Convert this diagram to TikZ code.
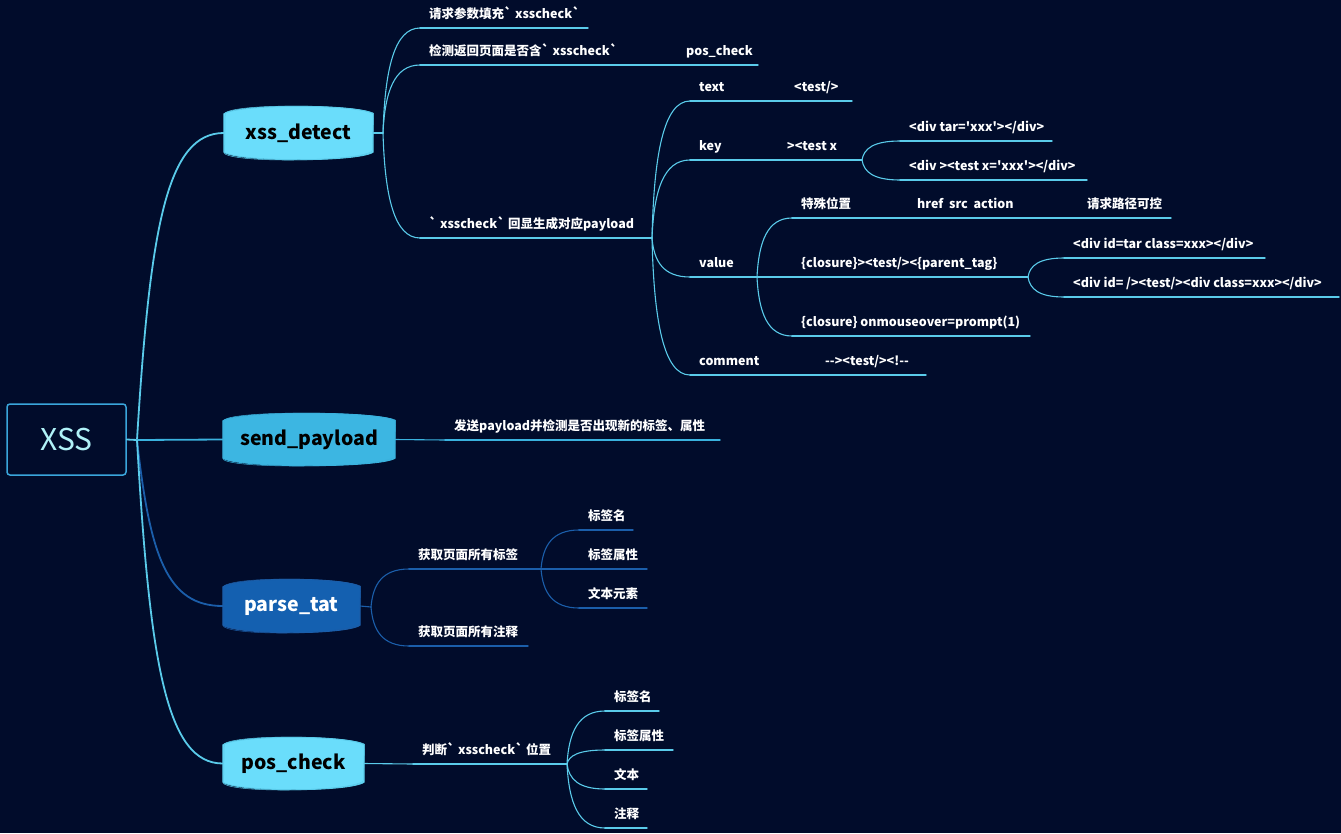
\documentclass[tikz,border=0pt]{standalone}
\usepackage{fontspec}
\newfontfamily\cjkf{Noto Sans CJK SC}
\usetikzlibrary{calc,backgrounds}
\definecolor{bg}{HTML}{010C2B}
\definecolor{lc}{HTML}{5ACBEA}
\definecolor{mc}{HTML}{3AB2DE}
\definecolor{dc}{HTML}{1B5EAA}
\definecolor{fl}{HTML}{6ADDFB}
\definecolor{fm}{HTML}{3CB6E2}
\definecolor{fd}{HTML}{1460B0}
\definecolor{xsst}{HTML}{B0F2F8}
\definecolor{boxc}{HTML}{3AA6DC}
\tikzset{
  lab/.style={font=\cjkf\bfseries\fontsize{12.5}{15}\selectfont, text=white, inner sep=0pt, anchor=base west},
  mainph/.style={inner sep=0pt, font=\cjkf\bfseries\fontsize{19.5}{24}\selectfont},
  ul/.style={line width=1.4pt, line cap=round},
  bl/.style={line width=1.1pt, line cap=round},
  rootl/.style={line width=1.8pt, line cap=round},
}
\newcommand\br[3][]{\draw[#1] let \p1=(#2), \p2=(#3) in (\p1) .. controls ({\x1+0.05*(\x2-\x1)},{\y1+0.6*(\y2-\y1)}) and ({\x1+0.3*(\x2-\x1)},\y2) .. (\p2);}
\newcommand\rbr[3][]{\draw[#1] let \p1=(#2), \p2=(#3) in (\p1) .. controls ({\x1+0.15*(\x2-\x1)},{\y1+0.7*(\y2-\y1)}) and ({\x1+0.35*(\x2-\x1)},\y2) .. (\p2);}
\newcommand\blob[3]{%
  \begin{scope}[on background layer]
  \filldraw[fill=#2,draw=#3,line width=0.9pt,line join=round] (#1.north west) .. controls ($(#1.north west)+(15,-10)$) and ($(#1.north east)+(-15,-10)$) .. (#1.north east) -- (#1.south east) .. controls ($(#1.south east)+(-15,10)$) and ($(#1.south west)+(15,10)$) .. (#1.south west) -- cycle;
  \draw[draw=#3,line width=0.5pt] ($(#1.north west)+(1.5,-1)$) .. controls ($(#1.north west)+(16,-11)$) and ($(#1.north east)+(-14,-9)$) .. ($(#1.north east)+(0.5,-0.5)$) -- ($(#1.south east)+(-1,-1)$) .. controls ($(#1.south east)+(-16,9.5)$) and ($(#1.south west)+(14,11)$) .. ($(#1.south west)+(0.8,1.5)$) -- cycle;
  \end{scope}}
\newcommand\leaf[6][lc]{%
  \coordinate (#2-s) at (#3,#4);
  \coordinate (#2-e) at (#5,#4);
  \node[lab] (#2) at ({#3+9},{#4-10}) {#6};
  \draw[ul,#1] (#2-s) -- (#2-e);}
\begin{document}
\begin{tikzpicture}[x=1pt,y=-1pt]
\useasboundingbox (0,0) rectangle (1341,833);
\begin{scope}[on background layer]
\fill[bg] (0,0) rectangle (1341,833);
\end{scope}

% root
\node[draw=boxc, line width=1.5pt, rounded corners=3pt, minimum width=119pt, minimum height=71pt, inner sep=0pt, text=xsst, font=\cjkf\fontsize{30}{36}\selectfont] (root) at (66.5,439.5) {XSS};
\coordinate (rj) at (137,440);

% main nodes
\node[mainph, minimum width=149pt, minimum height=38pt, text=black] (detect) at (298.5,133) {xss\_detect};
\blob{detect}{fl}{lc}
\node[mainph, minimum width=172pt, minimum height=37pt, text=black] (send) at (309,439.5) {send\_payload};
\blob{send}{fm}{mc}
\node[mainph, minimum width=137pt, minimum height=38pt, text=white] (parse) at (291.5,606) {parse\_tat};
\blob{parse}{fd}{dc}
\node[mainph, minimum width=141pt, minimum height=37pt, text=black] (pos) at (293.5,763.5) {pos\_check};
\blob{pos}{fl}{lc}

\draw[rootl,lc] (root.east) -- (rj);
\rbr[rootl,lc]{rj}{detect.west}
\draw[rootl,mc] (rj) -- (send.west);
\rbr[rootl,dc]{rj}{parse.west}
\rbr[rootl,lc]{rj}{pos.west}

% xss_detect subtree
\coordinate (dj) at (383,133);
\draw[bl,lc] (detect.east) -- (dj);
\leaf{d1}{420}{28}{588}{请求参数填充` xsscheck`}
\leaf{d2}{420}{65}{758}{检测返回页面是否含` xsscheck`}
\node[lab] (d2b) at (686,55) {pos\_check};
\leaf{d3}{420}{238}{652}{` xsscheck` 回显生成对应payload}
\br[bl,lc]{dj}{d1-s}
\br[bl,lc]{dj}{d2-s}
\br[bl,lc]{dj}{d3-s}

\leaf{t}{690}{101}{852}{text}
\node[lab] (tb) at (794,91) {<test/>};
\leaf{k}{690}{160}{862}{key}
\node[lab] (kb) at (787,150) {><test x};
\leaf{v}{690}{277}{757}{value}
\leaf{c}{690}{375}{926}{comment}
\node[lab] (cb) at (825,365) {--><test/><!--};
\br[bl,lc]{d3-e}{t-s}
\br[bl,lc]{d3-e}{k-s}
\br[bl,lc]{d3-e}{v-s}
\br[bl,lc]{d3-e}{c-s}

\leaf{k1}{900}{141}{1052}{<div tar='xxx'></div>}
\leaf{k2}{900}{180}{1087}{<div ><test x='xxx'></div>}
\br[bl,lc]{k-e}{k1-s}
\br[bl,lc]{k-e}{k2-s}

\leaf{v1}{792}{218}{1171}{特殊位置}
\node[lab] (v1b) at (917,208) {href\ \ src\ \ action};
\node[lab] (v1c) at (1087,208) {请求路径可控};
\leaf{v2}{792}{277}{1028}{\{closure\}><test/><\{parent\_tag\}}
\leaf{v3}{792}{336}{1030}{\{closure\} onmouseover=prompt(1)}
\br[bl,lc]{v-e}{v1-s}
\br[bl,lc]{v-e}{v2-s}
\br[bl,lc]{v-e}{v3-s}

\leaf{w1}{1064}{258}{1265}{<div id=tar class=xxx></div>}
\leaf{w2}{1064}{297}{1339}{<div id= /><test/><div class=xxx></div>}
\br[bl,lc]{v2-e}{w1-s}
\br[bl,lc]{v2-e}{w2-s}

% send_payload
\leaf[mc]{sp}{445}{440}{720}{发送payload并检测是否出现新的标签、属性}
\draw[bl,mc] (send.east) -- (sp-s);

% parse_tat
\coordinate (pj) at (371,607);
\draw[bl,dc] (parse.east) -- (pj);
\leaf[dc]{p1}{409}{569}{541}{获取页面所有标签}
\leaf[dc]{p2}{409}{646}{528}{获取页面所有注释}
\br[bl,dc]{pj}{p1-s}
\br[bl,dc]{pj}{p2-s}
\leaf[dc]{q1}{579}{530}{633}{标签名}
\leaf[dc]{q2}{579}{569}{647}{标签属性}
\leaf[dc]{q3}{579}{608}{647}{文本元素}
\br[bl,dc]{p1-e}{q1-s}
\br[bl,dc]{p1-e}{q2-s}
\br[bl,dc]{p1-e}{q3-s}

% pos_check
\leaf{ps}{413}{764}{567}{判断` xsscheck` 位置}
\draw[bl,lc] (pos.east) -- (ps-s);
\leaf{r1}{605}{711}{659}{标签名}
\leaf{r2}{605}{750}{673}{标签属性}
\leaf{r3}{605}{789}{647}{文本}
\leaf{r4}{605}{828}{647}{注释}
\br[bl,lc]{ps-e}{r1-s}
\br[bl,lc]{ps-e}{r2-s}
\br[bl,lc]{ps-e}{r3-s}
\br[bl,lc]{ps-e}{r4-s}
\end{tikzpicture}
\end{document}
